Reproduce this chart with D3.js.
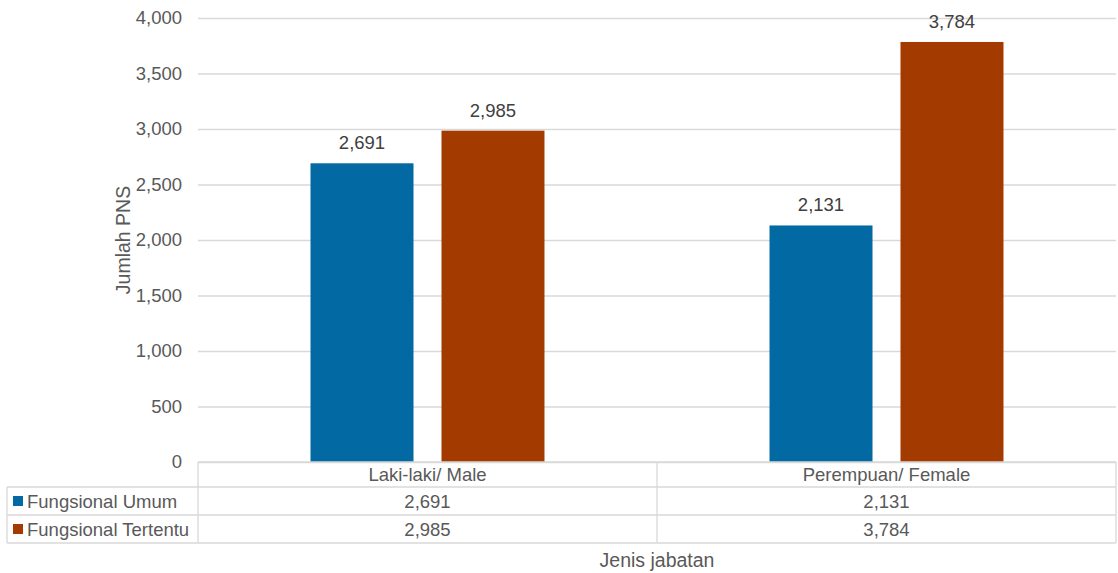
<!DOCTYPE html>
<html lang="en">
<head>
<meta charset="utf-8">
<title>Jumlah PNS menurut Jenis Jabatan</title>
<script src="https://cdn.jsdelivr.net/npm/d3@7"></script>
<style>
  body { margin: 0; background: #fff; }
  svg text { font-family: "Liberation Sans", Arial, sans-serif; }
  .tick text { font-size: 18.5px; fill: #595959; }
  .lbl { font-size: 18.5px; fill: #404040; }
  .tbl { font-size: 18.5px; fill: #595959; }
  .ttl { font-size: 19.5px; fill: #595959; }
</style>
</head>
<body>
<div id="chart"></div>
<script>
var categories = ["Laki-laki/ Male", "Perempuan/ Female"];
var series = ["Fungsional Umum", "Fungsional Tertentu"];
var umum = [2691, 2131];
var tertentu = [2985, 3784];
var yTicks = [0, 500, 1000, 1500, 2000, 2500, 3000, 3500, 4000];

var colors = ["#0369a3", "#a33b00"];
var values = [umum, tertentu];

var w = 1118, h = 573;
var plotL = 198, plotR = 1116, plotT = 18, plotB = 462;
var rowH = 28, headH = 25, tableLeft = 7;

var fmt = d3.format(",");

var svg = d3.select("#chart").append("svg")
  .attr("width", w)
  .attr("height", h);

var x0 = d3.scaleBand()
  .domain(categories)
  .range([plotL, plotR])
  .padding(0);

var x1 = d3.scaleBand()
  .domain(series)
  .range([0, x0.bandwidth()])
  .paddingInner(0.2137)
  .paddingOuter(0.859);

var y = d3.scaleLinear()
  .domain([0, 4000])
  .range([plotB, plotT]);

// gridlines + y labels
var yAxis = d3.axisLeft(y)
  .tickValues(yTicks)
  .tickFormat(fmt)
  .tickSize(-(plotR - plotL))
  .tickPadding(16);

var ga = svg.append("g")
  .attr("transform", "translate(" + plotL + ",0)")
  .call(yAxis);
ga.select(".domain").remove();
ga.selectAll(".tick line").attr("stroke", "#d9d9d9").attr("stroke-width", 1.3);
ga.selectAll(".tick text").attr("dy", "0.32em");

// bars
series.forEach(function (s, si) {
  var g = svg.append("g");
  g.selectAll("rect")
    .data(values[si])
    .enter()
    .append("rect")
    .attr("x", function (d, i) { return x0(categories[i]) + x1(s); })
    .attr("y", function (d) { return y(d); })
    .attr("width", x1.bandwidth())
    .attr("height", function (d) { return y(0) - y(d); })
    .attr("fill", colors[si]);

  g.selectAll("text")
    .data(values[si])
    .enter()
    .append("text")
    .attr("class", "lbl")
    .attr("text-anchor", "middle")
    .attr("x", function (d, i) { return x0(categories[i]) + x1(s) + x1.bandwidth() / 2; })
    .attr("y", function (d) { return y(d) - 14; })
    .text(function (d) { return fmt(d); });
});

// data table
var tg = svg.append("g");
var lineC = "#d9d9d9";
var t1 = plotB + headH, t2 = t1 + rowH, t3 = t2 + rowH;

function hline(xa, xb, yp) {
  tg.append("line").attr("x1", xa).attr("x2", xb).attr("y1", yp).attr("y2", yp)
    .attr("stroke", lineC).attr("stroke-width", 1.3);
}
function vline(xp, ya, yb) {
  tg.append("line").attr("x1", xp).attr("x2", xp).attr("y1", ya).attr("y2", yb)
    .attr("stroke", lineC).attr("stroke-width", 1.3);
}
hline(plotL, plotR, plotB);
hline(tableLeft, plotR, t1);
hline(tableLeft, plotR, t2);
hline(tableLeft, plotR, t3);
vline(tableLeft, t1, t3);
vline(plotL, plotB, t3);
categories.forEach(function (c) { vline(x0(c) + x0.bandwidth(), plotB, t3); });

tg.selectAll("text.head")
  .data(categories)
  .enter()
  .append("text")
  .attr("class", "tbl head")
  .attr("text-anchor", "middle")
  .attr("x", function (d) { return x0(d) + x0.bandwidth() / 2; })
  .attr("y", plotB + headH / 2)
  .attr("dy", "0.36em")
  .text(function (d) { return d; });

series.forEach(function (s, si) {
  var ry = t1 + rowH * si + rowH / 2;
  tg.append("rect")
    .attr("x", 13).attr("y", ry - 5)
    .attr("width", 10).attr("height", 10)
    .attr("fill", colors[si]);
  tg.append("text")
    .attr("class", "tbl")
    .attr("x", 27).attr("y", ry)
    .attr("dy", "0.36em")
    .text(s);
  tg.selectAll("text.v" + si)
    .data(values[si])
    .enter()
    .append("text")
    .attr("class", "tbl v" + si)
    .attr("text-anchor", "middle")
    .attr("x", function (d, i) { return x0(categories[i]) + x0.bandwidth() / 2; })
    .attr("y", ry)
    .attr("dy", "0.36em")
    .text(function (d) { return fmt(d); });
});

// axis titles
svg.append("text")
  .attr("class", "ttl")
  .attr("text-anchor", "middle")
  .attr("x", (plotL + plotR) / 2)
  .attr("y", 560)
  .attr("dy", "0.36em")
  .text("Jenis jabatan");

svg.append("text")
  .attr("class", "ttl")
  .attr("text-anchor", "middle")
  .attr("transform", "translate(123," + ((plotT + plotB) / 2) + ") rotate(-90)")
  .attr("dy", "0.36em")
  .text("Jumlah PNS");
</script>
</body>
</html>
